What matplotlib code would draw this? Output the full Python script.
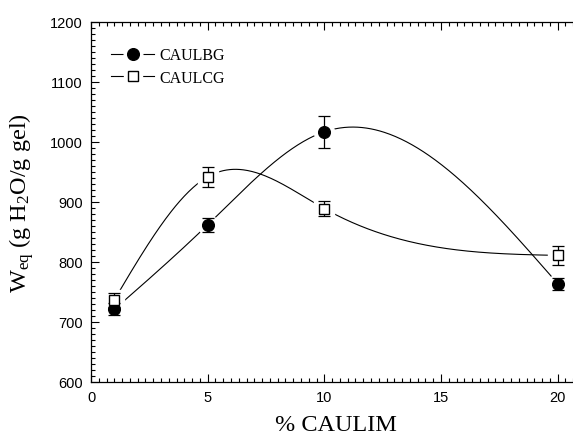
import numpy as np
import matplotlib
matplotlib.use('Agg')
import matplotlib.pyplot as plt
from matplotlib.lines import Line2D
from matplotlib.legend_handler import HandlerTuple
from matplotlib.ticker import MultipleLocator, AutoMinorLocator

plt.rcParams['mathtext.fontset'] = 'custom'
plt.rcParams['mathtext.rm'] = 'Liberation Serif'
plt.rcParams['mathtext.it'] = 'Liberation Serif:italic'

# data
caulim = [1, 5, 10, 20]
caulbg = [721, 862, 1017, 764]
caulbg_err = [10, 12, 27, 10]
caulcg = [737, 942, 889, 811]
caulcg_err = [12, 17, 13, 16]


def natural_spline(x, y, xs):
    # plain natural cubic spline, same kind of smooth curve sigmaplot draws
    x = np.asarray(x, float)
    y = np.asarray(y, float)
    n = len(x)
    h = np.diff(x)
    A = np.zeros((n, n))
    b = np.zeros(n)
    A[0, 0] = 1
    A[-1, -1] = 1
    for i in range(1, n - 1):
        A[i, i - 1] = h[i - 1]
        A[i, i] = 2 * (h[i - 1] + h[i])
        A[i, i + 1] = h[i]
        b[i] = 6 * ((y[i + 1] - y[i]) / h[i] - (y[i] - y[i - 1]) / h[i - 1])
    M = np.linalg.solve(A, b)
    out = np.zeros_like(xs)
    for k, xv in enumerate(xs):
        i = min(max(np.searchsorted(x, xv) - 1, 0), n - 2)
        hi = h[i]
        a = x[i + 1] - xv
        c = xv - x[i]
        out[k] = (M[i] * a ** 3 / (6 * hi) + M[i + 1] * c ** 3 / (6 * hi)
                  + (y[i] / hi - M[i] * hi / 6) * a + (y[i + 1] / hi - M[i + 1] * hi / 6) * c)
    return out


fig = plt.figure(figsize=(5.73, 4.35), dpi=100)
ax = fig.add_axes([91 / 573, 52 / 435, 490 / 573, 360 / 435])

xs = np.linspace(caulim[0], caulim[-1], 400)
ms = 8.4
for yv, err, mk, fc in [(caulbg, caulbg_err, 'o', 'black'), (caulcg, caulcg_err, 's', 'white')]:
    ax.plot(xs, natural_spline(caulim, yv, xs), color='black', lw=0.8, zorder=1)
    ax.plot(caulim, yv, ls='none', marker=mk, ms=ms + 6, mfc='white', mec='white', zorder=2)
    ax.errorbar(caulim, yv, yerr=err, fmt='none', ecolor='black', elinewidth=0.9,
                capsize=4, capthick=0.9, zorder=3)
    ax.plot(caulim, yv, ls='none', marker=mk, ms=ms if mk == 'o' else ms - 0.6,
            mfc=fc, mec='black', mew=1.0, zorder=4)

ax.set_xlim(0, 21)
ax.set_ylim(600, 1200)
ax.xaxis.set_major_locator(MultipleLocator(5))
ax.xaxis.set_minor_locator(AutoMinorLocator(15))
ax.yaxis.set_major_locator(MultipleLocator(100))
ax.yaxis.set_minor_locator(MultipleLocator(10))
ax.tick_params(which='both', direction='in', top=True, right=False, width=0.8)
ax.tick_params(which='major', length=6, labelsize=10.5, pad=6)
ax.tick_params(which='minor', length=3)
for lab in ax.get_xticklabels() + ax.get_yticklabels():
    lab.set_family('Liberation Sans')
for s in ax.spines.values():
    s.set_linewidth(0.9)

ax.set_xlabel('% CAULIM', family='Liberation Serif', fontsize=17.5, labelpad=7)
ax.set_ylabel(r'W$_{\mathrm{eq}}$ (g H$_{\mathrm{2}}$O/g gel)', family='Liberation Serif',
              fontsize=17.5, labelpad=10)


def handle(mk, fc):
    ln = Line2D([], [], color='black', lw=0.8)
    pad = Line2D([], [], ls='none', marker=mk, ms=ms + 5, mfc='white', mec='white')
    m = Line2D([], [], ls='none', marker=mk, ms=ms if mk == 'o' else ms - 0.6,
               mfc=fc, mec='black', mew=1.0)
    return (ln, pad, m)


ax.legend([handle('o', 'black'), handle('s', 'white')], ['CAULBG', 'CAULCG'],
          handler_map={tuple: HandlerTuple(ndivide=1, pad=0)},
          loc='upper left', bbox_to_anchor=(0.012, 0.97), frameon=False,
          prop={'family': 'Liberation Serif', 'size': 11.5},
          handlelength=2.7, handletextpad=0.3, labelspacing=0.4)

fig.savefig('out.png', dpi=100)
